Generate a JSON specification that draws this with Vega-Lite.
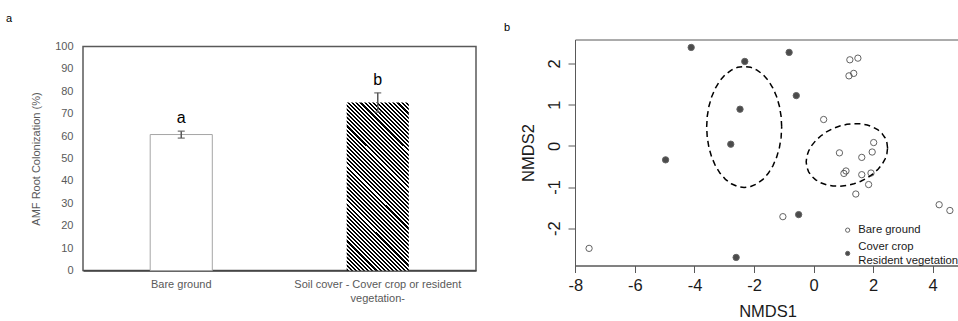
{
  "$schema": "https://vega.github.io/schema/vega-lite/v6.json",
  "padding": {"left": 6, "top": 12.5, "right": -2, "bottom": 0},
  "spacing": 26,
  "config": {
    "font": "Liberation Sans",
    "axis": {"grid": false},
    "title": {"fontWeight": "normal", "color": "#000"}
  },
  "resolve": {"scale": {"fill": "independent"}, "legend": {"fill": "independent"}},
  "datasets": {
    "bars": [
      {"treatment": "Bare ground", "mean": 60.7, "lower": 59.1, "upper": 62.2, "letter": "a"},
      {"treatment": "Soil cover - Cover crop or resident vegetation-", "mean": 75.0, "lower": 70.7, "upper": 79.3, "letter": "b"}
    ],
    "points": [
      {"grp": "Cover crop", "x": -4.11, "y": 2.39},
      {"grp": "Cover crop", "x": -0.82, "y": 2.27},
      {"grp": "Cover crop", "x": -2.31, "y": 2.05},
      {"grp": "Cover crop", "x": -0.58, "y": 1.22},
      {"grp": "Cover crop", "x": -2.47, "y": 0.89},
      {"grp": "Cover crop", "x": -2.78, "y": 0.04},
      {"grp": "Cover crop", "x": -4.97, "y": -0.34},
      {"grp": "Cover crop", "x": -0.50, "y": -1.67},
      {"grp": "Cover crop", "x": -2.60, "y": -2.71},
      {"grp": "Bare ground", "x": 1.22, "y": 2.09},
      {"grp": "Bare ground", "x": 1.49, "y": 2.13},
      {"grp": "Bare ground", "x": 1.19, "y": 1.70},
      {"grp": "Bare ground", "x": 1.35, "y": 1.76},
      {"grp": "Bare ground", "x": 0.34, "y": 0.64},
      {"grp": "Bare ground", "x": 2.02, "y": 0.08},
      {"grp": "Bare ground", "x": 0.87, "y": -0.17},
      {"grp": "Bare ground", "x": 1.97, "y": -0.15},
      {"grp": "Bare ground", "x": 1.62, "y": -0.28},
      {"grp": "Bare ground", "x": 1.09, "y": -0.61},
      {"grp": "Bare ground", "x": 1.02, "y": -0.67},
      {"grp": "Bare ground", "x": 1.62, "y": -0.70},
      {"grp": "Bare ground", "x": 1.93, "y": -0.66},
      {"grp": "Bare ground", "x": 1.85, "y": -0.94},
      {"grp": "Bare ground", "x": 1.42, "y": -1.17},
      {"grp": "Bare ground", "x": -1.03, "y": -1.72},
      {"grp": "Bare ground", "x": 4.22, "y": -1.43},
      {"grp": "Bare ground", "x": 4.58, "y": -1.57},
      {"grp": "Bare ground", "x": -7.54, "y": -2.49}
    ],
    "ell": [
      {"e": 1, "o": 0, "x": -1.07, "y": 0.46},
      {"e": 1, "o": 1, "x": -1.089, "y": 0.715},
      {"e": 1, "o": 2, "x": -1.146, "y": 0.963},
      {"e": 1, "o": 3, "x": -1.239, "y": 1.195},
      {"e": 1, "o": 4, "x": -1.365, "y": 1.405},
      {"e": 1, "o": 5, "x": -1.52, "y": 1.586},
      {"e": 1, "o": 6, "x": -1.70, "y": 1.733},
      {"e": 1, "o": 7, "x": -1.899, "y": 1.841},
      {"e": 1, "o": 8, "x": -2.111, "y": 1.908},
      {"e": 1, "o": 9, "x": -2.33, "y": 1.93},
      {"e": 1, "o": 10, "x": -2.549, "y": 1.908},
      {"e": 1, "o": 11, "x": -2.761, "y": 1.841},
      {"e": 1, "o": 12, "x": -2.96, "y": 1.733},
      {"e": 1, "o": 13, "x": -3.14, "y": 1.586},
      {"e": 1, "o": 14, "x": -3.295, "y": 1.405},
      {"e": 1, "o": 15, "x": -3.421, "y": 1.195},
      {"e": 1, "o": 16, "x": -3.514, "y": 0.963},
      {"e": 1, "o": 17, "x": -3.571, "y": 0.715},
      {"e": 1, "o": 18, "x": -3.59, "y": 0.46},
      {"e": 1, "o": 19, "x": -3.571, "y": 0.205},
      {"e": 1, "o": 20, "x": -3.514, "y": -0.043},
      {"e": 1, "o": 21, "x": -3.421, "y": -0.275},
      {"e": 1, "o": 22, "x": -3.295, "y": -0.485},
      {"e": 1, "o": 23, "x": -3.14, "y": -0.666},
      {"e": 1, "o": 24, "x": -2.96, "y": -0.813},
      {"e": 1, "o": 25, "x": -2.761, "y": -0.921},
      {"e": 1, "o": 26, "x": -2.549, "y": -0.988},
      {"e": 1, "o": 27, "x": -2.33, "y": -1.01},
      {"e": 1, "o": 28, "x": -2.111, "y": -0.988},
      {"e": 1, "o": 29, "x": -1.899, "y": -0.921},
      {"e": 1, "o": 30, "x": -1.70, "y": -0.813},
      {"e": 1, "o": 31, "x": -1.52, "y": -0.666},
      {"e": 1, "o": 32, "x": -1.365, "y": -0.485},
      {"e": 1, "o": 33, "x": -1.239, "y": -0.275},
      {"e": 1, "o": 34, "x": -1.146, "y": -0.043},
      {"e": 1, "o": 35, "x": -1.089, "y": 0.205},
      {"e": 1, "o": 36, "x": -1.07, "y": 0.46},
      {"e": 2, "o": 0, "x": 2.487, "y": -0.052},
      {"e": 2, "o": 1, "x": 2.466, "y": 0.074},
      {"e": 2, "o": 2, "x": 2.405, "y": 0.192},
      {"e": 2, "o": 3, "x": 2.304, "y": 0.296},
      {"e": 2, "o": 4, "x": 2.167, "y": 0.386},
      {"e": 2, "o": 5, "x": 1.999, "y": 0.456},
      {"e": 2, "o": 6, "x": 1.804, "y": 0.507},
      {"e": 2, "o": 7, "x": 1.588, "y": 0.534},
      {"e": 2, "o": 8, "x": 1.357, "y": 0.540},
      {"e": 2, "o": 9, "x": 1.12, "y": 0.522},
      {"e": 2, "o": 10, "x": 0.883, "y": 0.482},
      {"e": 2, "o": 11, "x": 0.652, "y": 0.42},
      {"e": 2, "o": 12, "x": 0.436, "y": 0.339},
      {"e": 2, "o": 13, "x": 0.241, "y": 0.24},
      {"e": 2, "o": 14, "x": 0.073, "y": 0.128},
      {"e": 2, "o": 15, "x": -0.064, "y": 0.006},
      {"e": 2, "o": 16, "x": -0.165, "y": -0.124},
      {"e": 2, "o": 17, "x": -0.226, "y": -0.256},
      {"e": 2, "o": 18, "x": -0.247, "y": -0.388},
      {"e": 2, "o": 19, "x": -0.226, "y": -0.514},
      {"e": 2, "o": 20, "x": -0.165, "y": -0.632},
      {"e": 2, "o": 21, "x": -0.064, "y": -0.736},
      {"e": 2, "o": 22, "x": 0.073, "y": -0.826},
      {"e": 2, "o": 23, "x": 0.241, "y": -0.896},
      {"e": 2, "o": 24, "x": 0.436, "y": -0.947},
      {"e": 2, "o": 25, "x": 0.652, "y": -0.974},
      {"e": 2, "o": 26, "x": 0.883, "y": -0.98},
      {"e": 2, "o": 27, "x": 1.12, "y": -0.962},
      {"e": 2, "o": 28, "x": 1.357, "y": -0.922},
      {"e": 2, "o": 29, "x": 1.588, "y": -0.86},
      {"e": 2, "o": 30, "x": 1.804, "y": -0.779},
      {"e": 2, "o": 31, "x": 1.999, "y": -0.68},
      {"e": 2, "o": 32, "x": 2.167, "y": -0.568},
      {"e": 2, "o": 33, "x": 2.304, "y": -0.446},
      {"e": 2, "o": 34, "x": 2.405, "y": -0.316},
      {"e": 2, "o": 35, "x": 2.466, "y": -0.184},
      {"e": 2, "o": 36, "x": 2.487, "y": -0.052}
    ]
  },
  "hconcat": [
    {
      "title": {"text": "a", "fontSize": 11, "anchor": "start", "frame": "group", "dx": -77, "offset": 16},
      "spacing": -1,
      "vconcat": [
        {
          "width": 10,
          "height": 1,
          "data": {"values": []},
          "mark": "point",
          "view": {"stroke": null}
        },
        {
          "width": 393,
          "height": 224,
          "view": {"stroke": "#595959", "strokeWidth": 1.5},
          "data": {"name": "bars"},
          "encoding": {
            "x": {
              "field": "treatment", "type": "nominal", "sort": null,
              "scale": {"paddingInner": 0.684, "paddingOuter": 0.342},
              "axis": {
                "title": null, "labelAngle": 0, "ticks": false, "domain": true,
                "domainColor": "#404040", "domainWidth": 1.5,
                "labelColor": "#595959", "labelFontSize": 11, "labelPadding": 8,
                "labelLineHeight": 14, "labelLimit": 300,
                "labelExpr": "datum.value == 'Bare ground' ? datum.value : ['Soil cover - Cover crop or resident', 'vegetation-']"
              }
            },
            "y": {
              "field": "mean", "type": "quantitative", "title": "AMF Root Colonization (%)",
              "scale": {"domain": [0, 100], "nice": false},
              "axis": {
                "values": [0, 10, 20, 30, 40, 50, 60, 70, 80, 90, 100], "tickCount": 20,
                "ticks": false, "domain": false, "labelOverlap": false,
                "labelColor": "#595959", "labelFontSize": 11, "labelPadding": 10,
                "titleColor": "#595959", "titleFontSize": 11, "titleFontWeight": "normal", "titlePadding": 13
              }
            }
          },
          "layer": [
            {
              "transform": [{"filter": "datum.treatment == 'Bare ground'"}],
              "mark": {"type": "bar", "fill": "#ffffff", "stroke": "#a6a6a6", "strokeWidth": 1}
            },
            {
              "transform": [{"filter": "datum.treatment != 'Bare ground'"}],
              "mark": {
                "type": "bar",
                "fill": {
                  "gradient": "linear", "x1": 0, "y1": 1, "x2": 0.445, "y2": -0.205,
                  "stops": [
                    {"offset": 0, "color": "#000"},
                    {"offset": 0.0089, "color": "#000"}, {"offset": 0.0089, "color": "#fff"},
                    {"offset": 0.0179, "color": "#fff"}, {"offset": 0.0179, "color": "#000"},
                    {"offset": 0.0268, "color": "#000"}, {"offset": 0.0268, "color": "#fff"},
                    {"offset": 0.0357, "color": "#fff"}, {"offset": 0.0357, "color": "#000"},
                    {"offset": 0.0446, "color": "#000"}, {"offset": 0.0446, "color": "#fff"},
                    {"offset": 0.0536, "color": "#fff"}, {"offset": 0.0536, "color": "#000"},
                    {"offset": 0.0625, "color": "#000"}, {"offset": 0.0625, "color": "#fff"},
                    {"offset": 0.0714, "color": "#fff"}, {"offset": 0.0714, "color": "#000"},
                    {"offset": 0.0804, "color": "#000"}, {"offset": 0.0804, "color": "#fff"},
                    {"offset": 0.0893, "color": "#fff"}, {"offset": 0.0893, "color": "#000"},
                    {"offset": 0.0982, "color": "#000"}, {"offset": 0.0982, "color": "#fff"},
                    {"offset": 0.1071, "color": "#fff"}, {"offset": 0.1071, "color": "#000"},
                    {"offset": 0.1161, "color": "#000"}, {"offset": 0.1161, "color": "#fff"},
                    {"offset": 0.125, "color": "#fff"}, {"offset": 0.125, "color": "#000"},
                    {"offset": 0.1339, "color": "#000"}, {"offset": 0.1339, "color": "#fff"},
                    {"offset": 0.1429, "color": "#fff"}, {"offset": 0.1429, "color": "#000"},
                    {"offset": 0.1518, "color": "#000"}, {"offset": 0.1518, "color": "#fff"},
                    {"offset": 0.1607, "color": "#fff"}, {"offset": 0.1607, "color": "#000"},
                    {"offset": 0.1696, "color": "#000"}, {"offset": 0.1696, "color": "#fff"},
                    {"offset": 0.1786, "color": "#fff"}, {"offset": 0.1786, "color": "#000"},
                    {"offset": 0.1875, "color": "#000"}, {"offset": 0.1875, "color": "#fff"},
                    {"offset": 0.1964, "color": "#fff"}, {"offset": 0.1964, "color": "#000"},
                    {"offset": 0.2054, "color": "#000"}, {"offset": 0.2054, "color": "#fff"},
                    {"offset": 0.2143, "color": "#fff"}, {"offset": 0.2143, "color": "#000"},
                    {"offset": 0.2232, "color": "#000"}, {"offset": 0.2232, "color": "#fff"},
                    {"offset": 0.2321, "color": "#fff"}, {"offset": 0.2321, "color": "#000"},
                    {"offset": 0.2411, "color": "#000"}, {"offset": 0.2411, "color": "#fff"},
                    {"offset": 0.25, "color": "#fff"}, {"offset": 0.25, "color": "#000"},
                    {"offset": 0.2589, "color": "#000"}, {"offset": 0.2589, "color": "#fff"},
                    {"offset": 0.2679, "color": "#fff"}, {"offset": 0.2679, "color": "#000"},
                    {"offset": 0.2768, "color": "#000"}, {"offset": 0.2768, "color": "#fff"},
                    {"offset": 0.2857, "color": "#fff"}, {"offset": 0.2857, "color": "#000"},
                    {"offset": 0.2946, "color": "#000"}, {"offset": 0.2946, "color": "#fff"},
                    {"offset": 0.3036, "color": "#fff"}, {"offset": 0.3036, "color": "#000"},
                    {"offset": 0.3125, "color": "#000"}, {"offset": 0.3125, "color": "#fff"},
                    {"offset": 0.3214, "color": "#fff"}, {"offset": 0.3214, "color": "#000"},
                    {"offset": 0.3304, "color": "#000"}, {"offset": 0.3304, "color": "#fff"},
                    {"offset": 0.3393, "color": "#fff"}, {"offset": 0.3393, "color": "#000"},
                    {"offset": 0.3482, "color": "#000"}, {"offset": 0.3482, "color": "#fff"},
                    {"offset": 0.3571, "color": "#fff"}, {"offset": 0.3571, "color": "#000"},
                    {"offset": 0.3661, "color": "#000"}, {"offset": 0.3661, "color": "#fff"},
                    {"offset": 0.375, "color": "#fff"}, {"offset": 0.375, "color": "#000"},
                    {"offset": 0.3839, "color": "#000"}, {"offset": 0.3839, "color": "#fff"},
                    {"offset": 0.3929, "color": "#fff"}, {"offset": 0.3929, "color": "#000"},
                    {"offset": 0.4018, "color": "#000"}, {"offset": 0.4018, "color": "#fff"},
                    {"offset": 0.4107, "color": "#fff"}, {"offset": 0.4107, "color": "#000"},
                    {"offset": 0.4196, "color": "#000"}, {"offset": 0.4196, "color": "#fff"},
                    {"offset": 0.4286, "color": "#fff"}, {"offset": 0.4286, "color": "#000"},
                    {"offset": 0.4375, "color": "#000"}, {"offset": 0.4375, "color": "#fff"},
                    {"offset": 0.4464, "color": "#fff"}, {"offset": 0.4464, "color": "#000"},
                    {"offset": 0.4554, "color": "#000"}, {"offset": 0.4554, "color": "#fff"},
                    {"offset": 0.4643, "color": "#fff"}, {"offset": 0.4643, "color": "#000"},
                    {"offset": 0.4732, "color": "#000"}, {"offset": 0.4732, "color": "#fff"},
                    {"offset": 0.4821, "color": "#fff"}, {"offset": 0.4821, "color": "#000"},
                    {"offset": 0.4911, "color": "#000"}, {"offset": 0.4911, "color": "#fff"},
                    {"offset": 0.5, "color": "#fff"}, {"offset": 0.5, "color": "#000"},
                    {"offset": 0.5089, "color": "#000"}, {"offset": 0.5089, "color": "#fff"},
                    {"offset": 0.5179, "color": "#fff"}, {"offset": 0.5179, "color": "#000"},
                    {"offset": 0.5268, "color": "#000"}, {"offset": 0.5268, "color": "#fff"},
                    {"offset": 0.5357, "color": "#fff"}, {"offset": 0.5357, "color": "#000"},
                    {"offset": 0.5446, "color": "#000"}, {"offset": 0.5446, "color": "#fff"},
                    {"offset": 0.5536, "color": "#fff"}, {"offset": 0.5536, "color": "#000"},
                    {"offset": 0.5625, "color": "#000"}, {"offset": 0.5625, "color": "#fff"},
                    {"offset": 0.5714, "color": "#fff"}, {"offset": 0.5714, "color": "#000"},
                    {"offset": 0.5804, "color": "#000"}, {"offset": 0.5804, "color": "#fff"},
                    {"offset": 0.5893, "color": "#fff"}, {"offset": 0.5893, "color": "#000"},
                    {"offset": 0.5982, "color": "#000"}, {"offset": 0.5982, "color": "#fff"},
                    {"offset": 0.6071, "color": "#fff"}, {"offset": 0.6071, "color": "#000"},
                    {"offset": 0.6161, "color": "#000"}, {"offset": 0.6161, "color": "#fff"},
                    {"offset": 0.625, "color": "#fff"}, {"offset": 0.625, "color": "#000"},
                    {"offset": 0.6339, "color": "#000"}, {"offset": 0.6339, "color": "#fff"},
                    {"offset": 0.6429, "color": "#fff"}, {"offset": 0.6429, "color": "#000"},
                    {"offset": 0.6518, "color": "#000"}, {"offset": 0.6518, "color": "#fff"},
                    {"offset": 0.6607, "color": "#fff"}, {"offset": 0.6607, "color": "#000"},
                    {"offset": 0.6696, "color": "#000"}, {"offset": 0.6696, "color": "#fff"},
                    {"offset": 0.6786, "color": "#fff"}, {"offset": 0.6786, "color": "#000"},
                    {"offset": 0.6875, "color": "#000"}, {"offset": 0.6875, "color": "#fff"},
                    {"offset": 0.6964, "color": "#fff"}, {"offset": 0.6964, "color": "#000"},
                    {"offset": 0.7054, "color": "#000"}, {"offset": 0.7054, "color": "#fff"},
                    {"offset": 0.7143, "color": "#fff"}, {"offset": 0.7143, "color": "#000"},
                    {"offset": 0.7232, "color": "#000"}, {"offset": 0.7232, "color": "#fff"},
                    {"offset": 0.7321, "color": "#fff"}, {"offset": 0.7321, "color": "#000"},
                    {"offset": 0.7411, "color": "#000"}, {"offset": 0.7411, "color": "#fff"},
                    {"offset": 0.75, "color": "#fff"}, {"offset": 0.75, "color": "#000"},
                    {"offset": 0.7589, "color": "#000"}, {"offset": 0.7589, "color": "#fff"},
                    {"offset": 0.7679, "color": "#fff"}, {"offset": 0.7679, "color": "#000"},
                    {"offset": 0.7768, "color": "#000"}, {"offset": 0.7768, "color": "#fff"},
                    {"offset": 0.7857, "color": "#fff"}, {"offset": 0.7857, "color": "#000"},
                    {"offset": 0.7946, "color": "#000"}, {"offset": 0.7946, "color": "#fff"},
                    {"offset": 0.8036, "color": "#fff"}, {"offset": 0.8036, "color": "#000"},
                    {"offset": 0.8125, "color": "#000"}, {"offset": 0.8125, "color": "#fff"},
                    {"offset": 0.8214, "color": "#fff"}, {"offset": 0.8214, "color": "#000"},
                    {"offset": 0.8304, "color": "#000"}, {"offset": 0.8304, "color": "#fff"},
                    {"offset": 0.8393, "color": "#fff"}, {"offset": 0.8393, "color": "#000"},
                    {"offset": 0.8482, "color": "#000"}, {"offset": 0.8482, "color": "#fff"},
                    {"offset": 0.8571, "color": "#fff"}, {"offset": 0.8571, "color": "#000"},
                    {"offset": 0.8661, "color": "#000"}, {"offset": 0.8661, "color": "#fff"},
                    {"offset": 0.875, "color": "#fff"}, {"offset": 0.875, "color": "#000"},
                    {"offset": 0.8839, "color": "#000"}, {"offset": 0.8839, "color": "#fff"},
                    {"offset": 0.8929, "color": "#fff"}, {"offset": 0.8929, "color": "#000"},
                    {"offset": 0.9018, "color": "#000"}, {"offset": 0.9018, "color": "#fff"},
                    {"offset": 0.9107, "color": "#fff"}, {"offset": 0.9107, "color": "#000"},
                    {"offset": 0.9196, "color": "#000"}, {"offset": 0.9196, "color": "#fff"},
                    {"offset": 0.9286, "color": "#fff"}, {"offset": 0.9286, "color": "#000"},
                    {"offset": 0.9375, "color": "#000"}, {"offset": 0.9375, "color": "#fff"},
                    {"offset": 0.9464, "color": "#fff"}, {"offset": 0.9464, "color": "#000"},
                    {"offset": 0.9554, "color": "#000"}, {"offset": 0.9554, "color": "#fff"},
                    {"offset": 0.9643, "color": "#fff"}, {"offset": 0.9643, "color": "#000"},
                    {"offset": 0.9732, "color": "#000"}, {"offset": 0.9732, "color": "#fff"},
                    {"offset": 0.9821, "color": "#fff"}, {"offset": 0.9821, "color": "#000"},
                    {"offset": 0.9911, "color": "#000"}, {"offset": 0.9911, "color": "#fff"},
                    {"offset": 1, "color": "#fff"}
                  ]
                }
              }
            },
            {
              "mark": {"type": "rule", "color": "#595959", "strokeWidth": 1.5},
              "encoding": {
                "y": {"field": "lower", "type": "quantitative"},
                "y2": {"field": "upper"}
              }
            },
            {
              "mark": {"type": "tick", "color": "#595959", "thickness": 1.5, "size": 7, "orient": "horizontal"},
              "encoding": {"y": {"field": "upper", "type": "quantitative"}}
            },
            {
              "mark": {"type": "tick", "color": "#595959", "thickness": 1.5, "size": 7, "orient": "horizontal"},
              "encoding": {"y": {"field": "lower", "type": "quantitative"}}
            },
            {
              "mark": {"type": "text", "fontSize": 16, "baseline": "alphabetic", "dy": -8, "color": "#000"},
              "encoding": {
                "y": {"field": "upper", "type": "quantitative"},
                "text": {"field": "letter"}
              }
            }
          ]
        }
      ]
    },
    {
      "width": 385,
      "height": 226,
      "title": {"text": "b", "fontSize": 11, "anchor": "start", "frame": "group", "dx": -71, "offset": 7},
      "view": {"stroke": "#595959", "strokeWidth": 1},
      "layer": [
        {
          "data": {"name": "ell"},
          "mark": {"type": "line", "color": "#000", "strokeWidth": 1.5, "strokeDash": [6, 4]},
          "encoding": {
            "x": {"field": "x", "type": "quantitative", "title": "NMDS1"},
            "y": {"field": "y", "type": "quantitative", "title": "NMDS2"},
            "detail": {"field": "e"},
            "order": {"field": "o"}
          }
        },
        {
          "data": {"name": "points"},
          "mark": {"type": "point", "shape": "circle", "filled": true, "stroke": "#222", "strokeWidth": 1, "size": 40},
          "encoding": {
            "x": {
              "field": "x", "type": "quantitative", "title": "NMDS1",
              "scale": {"domain": [-8.013, 4.92], "nice": false, "zero": false},
              "axis": {
                "values": [-8, -6, -4, -2, 0, 2, 4], "tickCount": 20, "tickSize": 7, "tickColor": "#595959",
                "domainColor": "#595959", "labelFontSize": 16.5, "labelColor": "#1a1a1a",
                "labelPadding": 5, "labelFlush": false, "labelOverlap": false,
                "labelExpr": "'' + datum.value",
                "titleFontSize": 16.5, "titleFontWeight": "normal", "titleColor": "#1a1a1a", "titlePadding": 9
              }
            },
            "y": {
              "field": "y", "type": "quantitative", "title": "NMDS2",
              "scale": {"domain": [-2.906, 2.583], "nice": false, "zero": false},
              "axis": {
                "values": [-2, -1, 0, 1, 2], "tickCount": 20, "labelAngle": 270, "tickSize": 7, "tickColor": "#595959",
                "domainColor": "#595959", "labelFontSize": 16.5, "labelColor": "#1a1a1a",
                "labelPadding": 6, "labelFlush": false, "labelOverlap": false,
                "labelExpr": "'' + datum.value",
                "titleFontSize": 16.5, "titleFontWeight": "normal", "titleColor": "#1a1a1a", "titlePadding": 10
              }
            },
            "fill": {
              "field": "grp", "type": "nominal",
              "scale": {"domain": ["Bare ground", "Cover crop"], "range": ["transparent", "#000000"]},
              "legend": {
                "title": null, "orient": "none", "legendX": 267, "legendY": 185,
                "symbolType": "circle", "symbolSize": 18, "symbolStrokeColor": "#222", "symbolStrokeWidth": 1,
                "labelFontSize": 11.3, "labelColor": "#1a1a1a", "labelOffset": 5, "rowPadding": 5.3, "labelLimit": 300,
                "padding": 0,
                "labelBaseline": {"expr": "datum.value == 'Cover crop' ? 'line-bottom' : 'middle'"},
                "labelExpr": "datum.label == 'Cover crop' ? ['Cover crop', 'Resident vegetation'] : datum.label"
              }
            }
          }
        }
      ]
    }
  ]
}
